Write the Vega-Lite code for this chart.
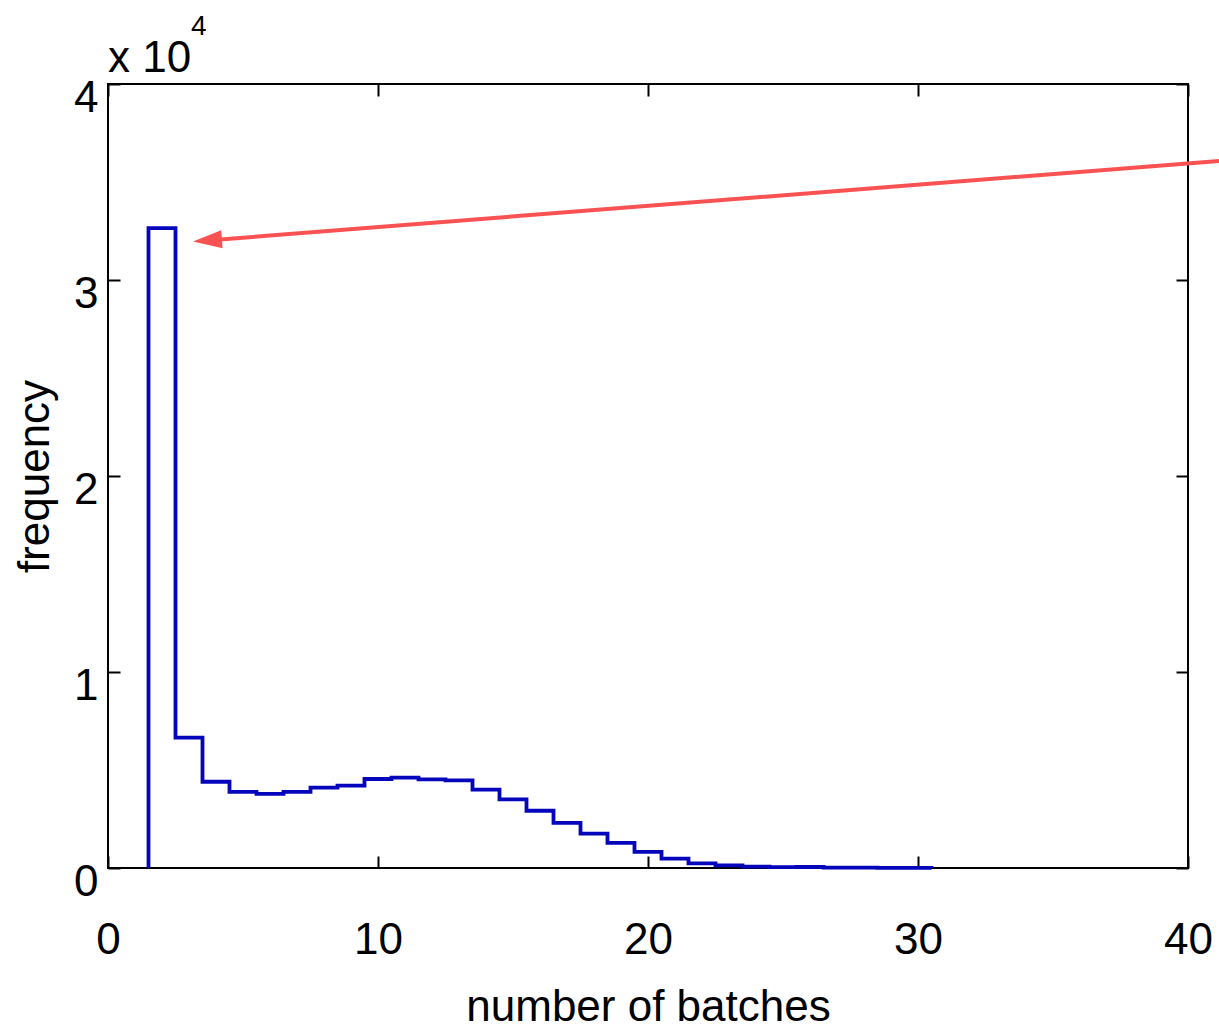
{
  "$schema": "https://vega.github.io/schema/vega-lite/v6.json",
  "width": 1080,
  "height": 784,
  "autosize": {"type": "none"},
  "padding": {"left": 108, "top": 84, "right": 31, "bottom": 163},
  "background": "white",
  "config": {
    "font": "Liberation Sans",
    "view": {"stroke": "black", "strokeWidth": 2},
    "axis": {
      "grid": false,
      "domain": false,
      "ticks": true,
      "tickSize": 12,
      "tickWidth": 2,
      "tickColor": "black",
      "offset": -12,
      "labelFont": "Liberation Sans",
      "labelFontSize": 44,
      "labelColor": "black",
      "labelFlush": false,
      "labelOverlap": false,
      "titleFont": "Liberation Sans",
      "titleFontSize": 44,
      "titleFontWeight": "normal",
      "titleColor": "black"
    }
  },
  "datasets": {
    "hist": [
      {"i": 0, "edge": 1.5, "count": 0},
      {"i": 1, "edge": 1.5, "count": 32650},
      {"i": 2, "edge": 2.5, "count": 6650},
      {"i": 3, "edge": 3.5, "count": 4400},
      {"i": 4, "edge": 4.5, "count": 3880},
      {"i": 5, "edge": 5.5, "count": 3780},
      {"i": 6, "edge": 6.5, "count": 3880},
      {"i": 7, "edge": 7.5, "count": 4100},
      {"i": 8, "edge": 8.5, "count": 4200},
      {"i": 9, "edge": 9.5, "count": 4540},
      {"i": 10, "edge": 10.5, "count": 4610},
      {"i": 11, "edge": 11.5, "count": 4520},
      {"i": 12, "edge": 12.5, "count": 4470},
      {"i": 13, "edge": 13.5, "count": 4000},
      {"i": 14, "edge": 14.5, "count": 3500},
      {"i": 15, "edge": 15.5, "count": 2920},
      {"i": 16, "edge": 16.5, "count": 2300},
      {"i": 17, "edge": 17.5, "count": 1750},
      {"i": 18, "edge": 18.5, "count": 1280},
      {"i": 19, "edge": 19.5, "count": 820},
      {"i": 20, "edge": 20.5, "count": 480},
      {"i": 21, "edge": 21.5, "count": 240},
      {"i": 22, "edge": 22.5, "count": 130},
      {"i": 23, "edge": 23.5, "count": 70},
      {"i": 24, "edge": 24.5, "count": 40},
      {"i": 25, "edge": 25.5, "count": 50},
      {"i": 26, "edge": 26.5, "count": 20},
      {"i": 27, "edge": 27.5, "count": 15},
      {"i": 28, "edge": 28.5, "count": 10},
      {"i": 29, "edge": 29.5, "count": 5},
      {"i": 30, "edge": 30.5, "count": 0}
    ],
    "one": [{"note": "annotation"}]
  },
  "resolve": {"axis": {"x": "independent", "y": "independent"}},
  "layer": [
    {
      "data": {"name": "hist"},
      "mark": {"type": "line", "interpolate": "step-after", "color": "#0505bc", "strokeWidth": 3.8, "strokeJoin": "miter"},
      "encoding": {
        "x": {
          "field": "edge", "type": "quantitative",
          "scale": {"domain": [0, 40], "nice": false, "zero": false},
          "axis": {"orient": "bottom", "values": [0, 10, 20, 30, 40], "labelPadding": 50, "title": "number of batches", "titlePadding": 23}
        },
        "y": {
          "field": "count", "type": "quantitative",
          "scale": {"domain": [0, 40000], "nice": false},
          "axis": {"orient": "left", "values": [0, 10000, 20000, 30000, 40000], "labelExpr": "datum.value / 10000", "labelPadding": 10, "labelOffset": 14, "labelBaseline": "middle", "title": "frequency", "titlePadding": 16}
        },
        "order": {"field": "i", "type": "quantitative"}
      }
    },
    {
      "data": {"name": "one"},
      "mark": {"type": "rule", "color": "#fa5252", "strokeWidth": 4},
      "encoding": {
        "x": {
          "datum": 3.8, "type": "quantitative",
          "scale": {"domain": [0, 40], "nice": false, "zero": false},
          "axis": {"orient": "top", "values": [0, 10, 20, 30, 40], "labels": false, "title": null}
        },
        "y": {
          "datum": 32030, "type": "quantitative",
          "scale": {"domain": [0, 40000], "nice": false},
          "axis": {"orient": "right", "values": [0, 10000, 20000, 30000, 40000], "labels": false, "title": null}
        },
        "x2": {"datum": 41.15},
        "y2": {"datum": 36071}
      }
    },
    {
      "data": {"name": "one"},
      "mark": {"type": "point", "shape": "M0,0L2,-0.62L2,0.62Z", "filled": true, "color": "#fa5252", "opacity": 1, "size": 841, "angle": 355.6},
      "encoding": {
        "x": {"datum": 3.148, "type": "quantitative", "scale": {"domain": [0, 40], "nice": false, "zero": false}, "axis": null},
        "y": {"datum": 31964, "type": "quantitative", "scale": {"domain": [0, 40000], "nice": false}, "axis": null}
      }
    },
    {
      "data": {"name": "one"},
      "mark": {"type": "text", "text": "x 10", "font": "Liberation Sans", "fontSize": 44, "align": "left", "baseline": "alphabetic", "dy": -12, "color": "black"},
      "encoding": {
        "x": {"datum": 0, "type": "quantitative", "scale": {"domain": [0, 40], "nice": false, "zero": false}, "axis": null},
        "y": {"datum": 40000, "type": "quantitative", "scale": {"domain": [0, 40000], "nice": false}, "axis": null}
      }
    },
    {
      "data": {"name": "one"},
      "mark": {"type": "text", "text": "4", "font": "Liberation Sans", "fontSize": 28, "align": "left", "baseline": "alphabetic", "dx": 83, "dy": -49, "color": "black"},
      "encoding": {
        "x": {"datum": 0, "type": "quantitative", "scale": {"domain": [0, 40], "nice": false, "zero": false}, "axis": null},
        "y": {"datum": 40000, "type": "quantitative", "scale": {"domain": [0, 40000], "nice": false}, "axis": null}
      }
    }
  ]
}
